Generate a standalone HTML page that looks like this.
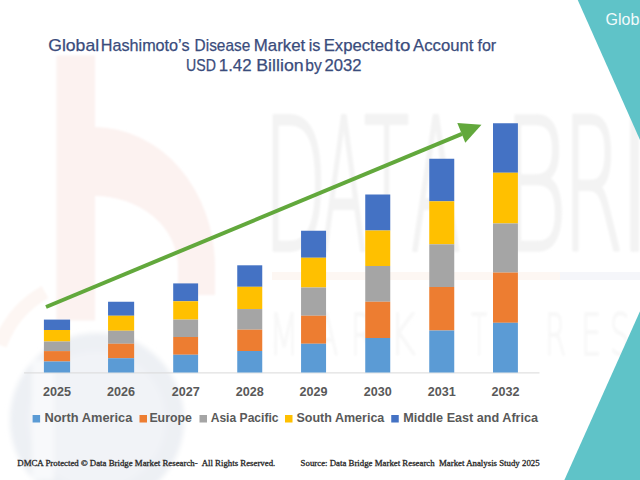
<!DOCTYPE html>
<html><head><meta charset="utf-8"><style>
html,body{margin:0;padding:0;background:#fff;}
body{width:640px;height:480px;overflow:hidden;position:relative;}
svg{position:absolute;left:0;top:0;display:block;}
</style></head><body>
<svg width="640" height="480" viewBox="0 0 640 480">
<rect width="640" height="480" fill="#ffffff"/>
<!-- watermark -->
<g id="wm">
<!-- blue-gray disk lower-left -->
<defs><filter id="bl" x="-20%" y="-20%" width="140%" height="140%"><feGaussianBlur stdDeviation="2.5"/></filter><filter id="bl2" x="-20%" y="-20%" width="140%" height="140%"><feGaussianBlur stdDeviation="1"/></filter><filter id="bl3" x="-10%" y="-10%" width="120%" height="120%"><feGaussianBlur stdDeviation="0.8"/></filter></defs>
<g filter="url(#bl)">
<circle cx="97" cy="420" r="87" fill="#F1F3F7"/>
<circle cx="97" cy="420" r="78" fill="none" stroke="#EDF0F4" stroke-width="18"/>
<rect x="32" y="360" width="22" height="120" fill="#F8F9FB"/>
</g>
<g filter="url(#bl2)">
<!-- peach b logo -->
<rect x="56.5" y="55.5" width="38.5" height="265" fill="#FCF2F0"/>
<path d="M94,127 A121,140 0 0 1 215,267 L215,295 L178,295 L178,267 A83,71 0 0 0 94,196 Z" fill="#FCF2F0"/>
<path d="M0,345 A100,100 0 0 1 45,292" fill="none" stroke="#FDF6F3" stroke-width="14"/>
</g>
<!-- DATABRIDGE watermark letters -->
<g filter="url(#bl3)">
<text transform="translate(263.56,250) scale(0.452,1)" font-family="DejaVu Sans, sans-serif" font-weight="200" font-size="183" fill="#F3F3F3" stroke="#F3F3F3" stroke-width="3" vector-effect="non-scaling-stroke" stroke-linejoin="round">D</text>
<text transform="translate(321.32,250) scale(0.363,1)" font-family="DejaVu Sans, sans-serif" font-weight="200" font-size="183" fill="#F3F3F3" stroke="#F3F3F3" stroke-width="3" vector-effect="non-scaling-stroke" stroke-linejoin="round">A</text>
<text transform="translate(363.88,250) scale(0.404,1)" font-family="DejaVu Sans, sans-serif" font-weight="200" font-size="183" fill="#F3F3F3" stroke="#F3F3F3" stroke-width="3" vector-effect="non-scaling-stroke" stroke-linejoin="round">T</text>
<text transform="translate(411.11,250) scale(0.398,1)" font-family="DejaVu Sans, sans-serif" font-weight="200" font-size="183" fill="#F3F3F3" stroke="#F3F3F3" stroke-width="3" vector-effect="non-scaling-stroke" stroke-linejoin="round">A</text>
<text transform="translate(503.18,250) scale(0.536,1)" font-family="DejaVu Sans, sans-serif" font-weight="200" font-size="183" fill="#F3F3F3" stroke="#F3F3F3" stroke-width="3" vector-effect="non-scaling-stroke" stroke-linejoin="round">B</text>
<text transform="translate(562.49,250) scale(0.479,1)" font-family="DejaVu Sans, sans-serif" font-weight="200" font-size="183" fill="#F3F3F3" stroke="#F3F3F3" stroke-width="3" vector-effect="non-scaling-stroke" stroke-linejoin="round">R</text>
<text transform="translate(616.83,250) scale(0.667,1)" font-family="DejaVu Sans, sans-serif" font-weight="200" font-size="183" fill="#F3F3F3" stroke="#F3F3F3" stroke-width="3" vector-effect="non-scaling-stroke" stroke-linejoin="round">I</text>
<text transform="translate(639.56,250) scale(0.452,1)" font-family="DejaVu Sans, sans-serif" font-weight="200" font-size="183" fill="#F3F3F3" stroke="#F3F3F3" stroke-width="3" vector-effect="non-scaling-stroke" stroke-linejoin="round">D</text>
</g>
<!-- divider line -->
<rect x="272" y="272" width="288" height="8" fill="#FDF7F3"/>
<rect x="560" y="272" width="80" height="8" fill="#F5F6FA"/>
<!-- MARKET RESEARCH -->
<g filter="url(#bl3)">
<text transform="translate(269.33,354.7) scale(0.594,1)" font-family="DejaVu Sans, sans-serif" font-weight="200" font-size="57.6" fill="#F8F8F8" stroke="#F8F8F8" stroke-width="1.5" vector-effect="non-scaling-stroke" stroke-linejoin="round">M</text>
<text transform="translate(314.61,354.7) scale(0.604,1)" font-family="DejaVu Sans, sans-serif" font-weight="200" font-size="57.6" fill="#F8F8F8" stroke="#F8F8F8" stroke-width="1.5" vector-effect="non-scaling-stroke" stroke-linejoin="round">A</text>
<text transform="translate(350.71,354.7) scale(0.558,1)" font-family="DejaVu Sans, sans-serif" font-weight="200" font-size="57.6" fill="#F8F8F8" stroke="#F8F8F8" stroke-width="1.5" vector-effect="non-scaling-stroke" stroke-linejoin="round">R</text>
<text transform="translate(389.79,354.7) scale(0.691,1)" font-family="DejaVu Sans, sans-serif" font-weight="200" font-size="57.6" fill="#F8F8F8" stroke="#F8F8F8" stroke-width="1.5" vector-effect="non-scaling-stroke" stroke-linejoin="round">K</text>
<text transform="translate(430.61,354.7) scale(0.598,1)" font-family="DejaVu Sans, sans-serif" font-weight="200" font-size="57.6" fill="#F8F8F8" stroke="#F8F8F8" stroke-width="1.5" vector-effect="non-scaling-stroke" stroke-linejoin="round">E</text>
<text transform="translate(471.19,354.7) scale(0.443,1)" font-family="DejaVu Sans, sans-serif" font-weight="200" font-size="57.6" fill="#F8F8F8" stroke="#F8F8F8" stroke-width="1.5" vector-effect="non-scaling-stroke" stroke-linejoin="round">T</text>
<text transform="translate(544.96,354.7) scale(0.524,1)" font-family="DejaVu Sans, sans-serif" font-weight="200" font-size="57.6" fill="#F8F8F8" stroke="#F8F8F8" stroke-width="1.5" vector-effect="non-scaling-stroke" stroke-linejoin="round">R</text>
<text transform="translate(580.89,354.7) scale(0.557,1)" font-family="DejaVu Sans, sans-serif" font-weight="200" font-size="57.6" fill="#F8F8F8" stroke="#F8F8F8" stroke-width="1.5" vector-effect="non-scaling-stroke" stroke-linejoin="round">E</text>
<text transform="translate(610.02,354.7) scale(0.542,1)" font-family="DejaVu Sans, sans-serif" font-weight="200" font-size="57.6" fill="#F8F8F8" stroke="#F8F8F8" stroke-width="1.5" vector-effect="non-scaling-stroke" stroke-linejoin="round">S</text>
</g>
</g>
<!-- teal triangles -->
<polygon points="577.75,0 640,0 640,140" fill="#5FC3C8"/>
<polygon points="640,311.3 640,480 564.4,480" fill="#5FC3C8"/>
<text x="605.5" y="24.6" font-family="Liberation Sans, sans-serif" font-size="16" fill="#F2FAFB">Global</text>
<!-- title -->
<g font-family="Liberation Sans, sans-serif" font-size="16.2" fill="#3A4C7C" stroke="#3A4C7C" stroke-width="0.25">
<text x="48.3" y="50.5" textLength="50.76" lengthAdjust="spacingAndGlyphs">Global</text>
<text x="100.75" y="50.5" textLength="88.78" lengthAdjust="spacingAndGlyphs">Hashimoto&#8217;s</text>
<text x="194.6" y="50.5" textLength="55.62" lengthAdjust="spacingAndGlyphs">Disease</text>
<text x="253.75" y="50.5" textLength="51.51" lengthAdjust="spacingAndGlyphs">Market</text>
<text x="308.75" y="50.5" textLength="11.74" lengthAdjust="spacingAndGlyphs">is</text>
<text x="323.75" y="50.5" textLength="69.55" lengthAdjust="spacingAndGlyphs">Expected</text>
<text x="394.75" y="50.5" textLength="15.62" lengthAdjust="spacingAndGlyphs">to</text>
<text x="413.1" y="50.5" textLength="60.29" lengthAdjust="spacingAndGlyphs">Account</text>
<text x="477.5" y="50.5" textLength="18.73" lengthAdjust="spacingAndGlyphs">for</text>
<text x="186" y="71.3" textLength="29.85" lengthAdjust="spacingAndGlyphs">USD</text>
<text x="218.8" y="71.3" textLength="32.79" lengthAdjust="spacingAndGlyphs">1.42</text>
<text x="256.3" y="71.3" textLength="47.33" lengthAdjust="spacingAndGlyphs">Billion</text>
<text x="305.25" y="71.3" textLength="16.49" lengthAdjust="spacingAndGlyphs">by</text>
<text x="324.5" y="71.3" textLength="37.06" lengthAdjust="spacingAndGlyphs">2032</text>
</g>
<!-- axis -->
<line x1="24" y1="372.9" x2="539.5" y2="372.9" stroke="#D9D9D9" stroke-width="1"/>
<!-- bars -->
<g>
<rect x="43.90" y="319.60" width="26.2" height="10.40" fill="#4472C4"/><rect x="43.90" y="330.00" width="26.2" height="11.50" fill="#FFC000"/><rect x="43.90" y="341.50" width="26.2" height="9.60" fill="#A5A5A5"/><rect x="43.90" y="351.10" width="26.2" height="10.40" fill="#ED7D31"/><rect x="43.90" y="361.50" width="26.2" height="11.00" fill="#5B9BD5"/><rect x="108.05" y="301.75" width="26.1" height="14.00" fill="#4472C4"/><rect x="108.05" y="315.75" width="26.1" height="15.00" fill="#FFC000"/><rect x="108.05" y="330.75" width="26.1" height="13.00" fill="#A5A5A5"/><rect x="108.05" y="343.75" width="26.1" height="14.50" fill="#ED7D31"/><rect x="108.05" y="358.25" width="26.1" height="14.25" fill="#5B9BD5"/><rect x="173.20" y="283.40" width="24.9" height="17.85" fill="#4472C4"/><rect x="173.20" y="301.25" width="24.9" height="18.35" fill="#FFC000"/><rect x="173.20" y="319.60" width="24.9" height="17.40" fill="#A5A5A5"/><rect x="173.20" y="337.00" width="24.9" height="17.75" fill="#ED7D31"/><rect x="173.20" y="354.75" width="24.9" height="17.75" fill="#5B9BD5"/><rect x="237.25" y="265.30" width="25" height="21.50" fill="#4472C4"/><rect x="237.25" y="286.80" width="25" height="22.25" fill="#FFC000"/><rect x="237.25" y="309.05" width="25" height="20.65" fill="#A5A5A5"/><rect x="237.25" y="329.70" width="25" height="21.30" fill="#ED7D31"/><rect x="237.25" y="351.00" width="25" height="21.50" fill="#5B9BD5"/><rect x="301.06" y="230.75" width="25" height="27.00" fill="#4472C4"/><rect x="301.06" y="257.75" width="25" height="29.75" fill="#FFC000"/><rect x="301.06" y="287.50" width="25" height="28.25" fill="#A5A5A5"/><rect x="301.06" y="315.75" width="25" height="28.00" fill="#ED7D31"/><rect x="301.06" y="343.75" width="25" height="28.75" fill="#5B9BD5"/><rect x="365.25" y="194.50" width="25" height="36.00" fill="#4472C4"/><rect x="365.25" y="230.50" width="25" height="35.50" fill="#FFC000"/><rect x="365.25" y="266.00" width="25" height="35.75" fill="#A5A5A5"/><rect x="365.25" y="301.75" width="25" height="36.25" fill="#ED7D31"/><rect x="365.25" y="338.00" width="25" height="34.50" fill="#5B9BD5"/><rect x="429.25" y="158.75" width="25" height="42.55" fill="#4472C4"/><rect x="429.25" y="201.30" width="25" height="43.00" fill="#FFC000"/><rect x="429.25" y="244.30" width="25" height="42.70" fill="#A5A5A5"/><rect x="429.25" y="287.00" width="25" height="43.50" fill="#ED7D31"/><rect x="429.25" y="330.50" width="25" height="42.00" fill="#5B9BD5"/><rect x="493.00" y="123.25" width="24.9" height="49.50" fill="#4472C4"/><rect x="493.00" y="172.75" width="24.9" height="50.70" fill="#FFC000"/><rect x="493.00" y="223.45" width="24.9" height="49.15" fill="#A5A5A5"/><rect x="493.00" y="272.60" width="24.9" height="50.20" fill="#ED7D31"/><rect x="493.00" y="322.80" width="24.9" height="49.70" fill="#5B9BD5"/>
</g>
<!-- arrow -->
<line x1="46" y1="307" x2="462" y2="133.8" stroke="#62A83C" stroke-width="4"/>
<polygon points="457.3,123.1 481.5,124.8 465.3,142.8" fill="#62A83C"/>
<!-- year labels -->
<g font-family="Liberation Sans, sans-serif" font-size="12.6" font-weight="bold" fill="#595959">
<text x="57.00" y="395.8" text-anchor="middle">2025</text><text x="121.10" y="395.8" text-anchor="middle">2026</text><text x="185.65" y="395.8" text-anchor="middle">2027</text><text x="249.75" y="395.8" text-anchor="middle">2028</text><text x="313.56" y="395.8" text-anchor="middle">2029</text><text x="377.75" y="395.8" text-anchor="middle">2030</text><text x="441.75" y="395.8" text-anchor="middle">2031</text><text x="505.45" y="395.8" text-anchor="middle">2032</text>
</g>
<!-- legend -->
<g font-family="Liberation Sans, sans-serif" font-size="12.6" font-weight="bold" fill="#595959">
<rect x="32.6" y="415" width="7.5" height="7.5" fill="#5B9BD5"/><text x="44.5" y="422.4" textLength="87.8" lengthAdjust="spacingAndGlyphs">North America</text><rect x="139.5" y="415" width="7.5" height="7.5" fill="#ED7D31"/><text x="149.4" y="422.4" textLength="42.45" lengthAdjust="spacingAndGlyphs">Europe</text><rect x="199.5" y="415" width="7.5" height="7.5" fill="#A5A5A5"/><text x="210.65" y="422.4" textLength="67.95" lengthAdjust="spacingAndGlyphs">Asia Pacific</text><rect x="285.0" y="415" width="7.5" height="7.5" fill="#FFC000"/><text x="296.4" y="422.4" textLength="87.95" lengthAdjust="spacingAndGlyphs">South America</text><rect x="391.25" y="415" width="7.5" height="7.5" fill="#4472C4"/><text x="403.15" y="422.4" textLength="134.95" lengthAdjust="spacingAndGlyphs">Middle East and Africa</text>
</g>
<!-- footer -->
<g font-family="Liberation Serif, serif" font-size="8.8" fill="#262626" stroke="#262626" stroke-width="0.3">
<text x="17.3" y="466.4" xml:space="preserve" textLength="258" lengthAdjust="spacingAndGlyphs">DMCA Protected © Data Bridge Market Research-  All Rights Reserved.</text>
<text x="300.6" y="466.4" xml:space="preserve" textLength="239" lengthAdjust="spacingAndGlyphs">Source: Data Bridge Market Research  Market Analysis Study 2025</text>
</g>
</svg>
</body></html>
